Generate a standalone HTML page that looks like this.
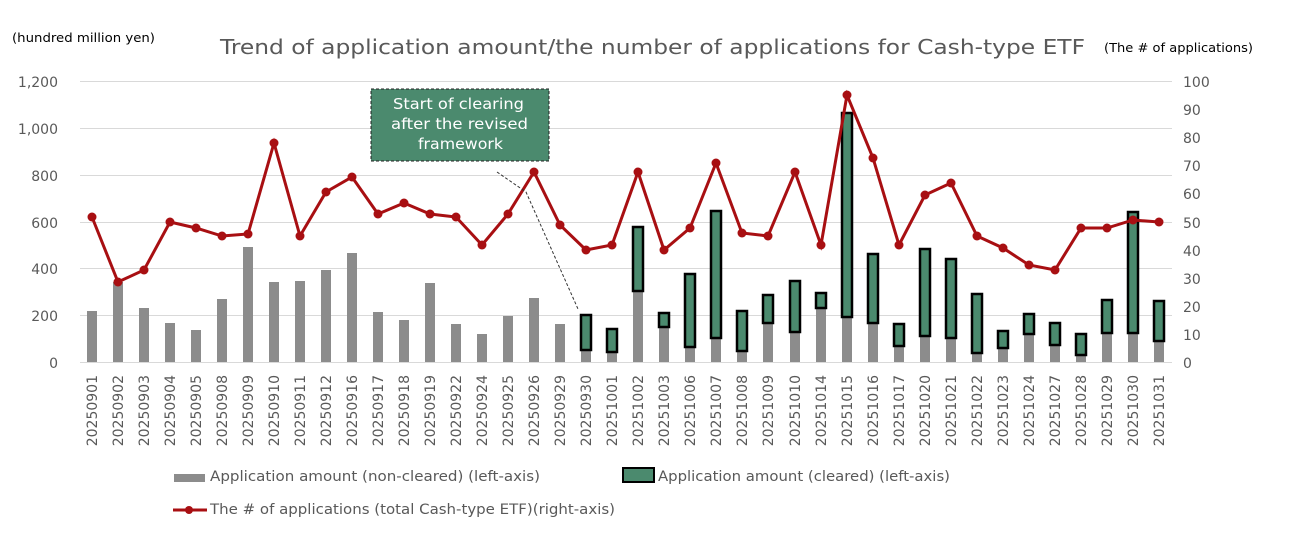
<!DOCTYPE html>
<html><head><meta charset="utf-8"><style>body{margin:0;background:#fff}svg{display:block;font-family:"DejaVu Sans","Liberation Sans",sans-serif}</style></head><body>
<svg width="1298" height="535" viewBox="0 0 1298 535" xmlns="http://www.w3.org/2000/svg">
<text x="12" y="42" font-size="12" fill="#000" textLength="143" lengthAdjust="spacingAndGlyphs">(hundred million yen)</text>
<text x="220" y="54" font-size="20" fill="#595959" textLength="865" lengthAdjust="spacingAndGlyphs">Trend of application amount/the number of applications for Cash-type ETF</text>
<text x="1104" y="52" font-size="12" fill="#000" textLength="149" lengthAdjust="spacingAndGlyphs">(The # of applications)</text>
<g stroke="#d9d9d9" stroke-width="1">
<line x1="80" x2="1172" y1="81.5" y2="81.5"/><line x1="80" x2="1172" y1="128.5" y2="128.5"/><line x1="80" x2="1172" y1="175.5" y2="175.5"/><line x1="80" x2="1172" y1="222.5" y2="222.5"/><line x1="80" x2="1172" y1="268.5" y2="268.5"/><line x1="80" x2="1172" y1="315.5" y2="315.5"/><line x1="80" x2="1172" y1="362.5" y2="362.5"/>
</g>
<g font-size="14" fill="#595959" text-anchor="end">
<text x="58" y="87">1,200</text><text x="58" y="134">1,000</text><text x="58" y="181">800</text><text x="58" y="228">600</text><text x="58" y="274">400</text><text x="58" y="321">200</text><text x="58" y="368">0</text>
</g>
<g font-size="14" fill="#595959">
<text x="1183" y="87">100</text><text x="1183" y="115">90</text><text x="1183" y="143">80</text><text x="1183" y="171">70</text><text x="1183" y="199">60</text><text x="1183" y="228">50</text><text x="1183" y="256">40</text><text x="1183" y="284">30</text><text x="1183" y="312">20</text><text x="1183" y="340">10</text><text x="1183" y="368">0</text>
</g>
<g fill="#8c8c8c">
<rect x="87" y="311" width="10" height="51"/><rect x="113" y="282" width="10" height="80"/><rect x="139" y="308" width="10" height="54"/><rect x="165" y="323" width="10" height="39"/><rect x="191" y="330" width="10" height="32"/><rect x="217" y="299" width="10" height="63"/><rect x="243" y="247" width="10" height="115"/><rect x="269" y="282" width="10" height="80"/><rect x="295" y="281" width="10" height="81"/><rect x="321" y="270" width="10" height="92"/><rect x="347" y="253" width="10" height="109"/><rect x="373" y="312" width="10" height="50"/><rect x="399" y="320" width="10" height="42"/><rect x="425" y="283" width="10" height="79"/><rect x="451" y="324" width="10" height="38"/><rect x="477" y="334" width="10" height="28"/><rect x="503" y="316" width="10" height="46"/><rect x="529" y="298" width="10" height="64"/><rect x="555" y="324" width="10" height="38"/>
<rect x="581" y="350" width="10" height="12"/><rect x="607" y="352" width="10" height="10"/><rect x="633" y="291" width="10" height="71"/><rect x="659" y="327" width="10" height="35"/><rect x="685" y="347" width="10" height="15"/><rect x="711" y="338" width="10" height="24"/><rect x="737" y="351" width="10" height="11"/><rect x="763" y="323" width="10" height="39"/><rect x="790" y="332" width="10" height="30"/><rect x="816" y="308" width="10" height="54"/><rect x="842" y="317" width="10" height="45"/><rect x="868" y="323" width="10" height="39"/><rect x="894" y="346" width="10" height="16"/><rect x="920" y="336" width="10" height="26"/><rect x="946" y="338" width="10" height="24"/><rect x="972" y="353" width="10" height="9"/><rect x="998" y="348" width="10" height="14"/><rect x="1024" y="334" width="10" height="28"/><rect x="1050" y="345" width="10" height="17"/><rect x="1076" y="355" width="10" height="7"/><rect x="1102" y="333" width="10" height="29"/><rect x="1128" y="333" width="10" height="29"/><rect x="1154" y="341" width="10" height="21"/>
</g>
<g fill="#4b8a6e" stroke="#000" stroke-width="2.5">
<rect x="581" y="315" width="10" height="35"/><rect x="607" y="329" width="10" height="23"/><rect x="633" y="227" width="10" height="64"/><rect x="659" y="313" width="10" height="14"/><rect x="685" y="274" width="10" height="73"/><rect x="711" y="211" width="10" height="127"/><rect x="737" y="311" width="10" height="40"/><rect x="763" y="295" width="10" height="28"/><rect x="790" y="281" width="10" height="51"/><rect x="816" y="293" width="10" height="15"/><rect x="842" y="113" width="10" height="204"/><rect x="868" y="254" width="10" height="69"/><rect x="894" y="324" width="10" height="22"/><rect x="920" y="249" width="10" height="87"/><rect x="946" y="259" width="10" height="79"/><rect x="972" y="294" width="10" height="59"/><rect x="998" y="331" width="10" height="17"/><rect x="1024" y="314" width="10" height="20"/><rect x="1050" y="323" width="10" height="22"/><rect x="1076" y="334" width="10" height="21"/><rect x="1102" y="300" width="10" height="33"/><rect x="1128" y="212" width="10" height="121"/><rect x="1154" y="301" width="10" height="40"/>
</g>
<polyline fill="none" stroke="#a80f12" stroke-width="3" points="92,217 118,282 144,270 170,222 196,228 222,236 248,234 274,143 300,236 326,192 352,177 378,214 404,203 430,214 456,217 482,245 508,214 534,172 560,225 586,250 612,245 638,172 664,250 690,228 716,163 742,233 768,236 795,172 821,245 847,95 873,158 899,245 925,195 951,183 977,236 1003,248 1029,265 1055,270 1081,228 1107,228 1133,220 1159,222"/>
<g fill="#a80f12">
<circle cx="92" cy="217" r="4.5"/><circle cx="118" cy="282" r="4.5"/><circle cx="144" cy="270" r="4.5"/><circle cx="170" cy="222" r="4.5"/><circle cx="196" cy="228" r="4.5"/><circle cx="222" cy="236" r="4.5"/><circle cx="248" cy="234" r="4.5"/><circle cx="274" cy="143" r="4.5"/><circle cx="300" cy="236" r="4.5"/><circle cx="326" cy="192" r="4.5"/><circle cx="352" cy="177" r="4.5"/><circle cx="378" cy="214" r="4.5"/><circle cx="404" cy="203" r="4.5"/><circle cx="430" cy="214" r="4.5"/><circle cx="456" cy="217" r="4.5"/><circle cx="482" cy="245" r="4.5"/><circle cx="508" cy="214" r="4.5"/><circle cx="534" cy="172" r="4.5"/><circle cx="560" cy="225" r="4.5"/><circle cx="586" cy="250" r="4.5"/><circle cx="612" cy="245" r="4.5"/><circle cx="638" cy="172" r="4.5"/><circle cx="664" cy="250" r="4.5"/><circle cx="690" cy="228" r="4.5"/><circle cx="716" cy="163" r="4.5"/><circle cx="742" cy="233" r="4.5"/><circle cx="768" cy="236" r="4.5"/><circle cx="795" cy="172" r="4.5"/><circle cx="821" cy="245" r="4.5"/><circle cx="847" cy="95" r="4.5"/><circle cx="873" cy="158" r="4.5"/><circle cx="899" cy="245" r="4.5"/><circle cx="925" cy="195" r="4.5"/><circle cx="951" cy="183" r="4.5"/><circle cx="977" cy="236" r="4.5"/><circle cx="1003" cy="248" r="4.5"/><circle cx="1029" cy="265" r="4.5"/><circle cx="1055" cy="270" r="4.5"/><circle cx="1081" cy="228" r="4.5"/><circle cx="1107" cy="228" r="4.5"/><circle cx="1133" cy="220" r="4.5"/><circle cx="1159" cy="222" r="4.5"/>
</g>
<polyline fill="none" stroke="#333" stroke-width="1" stroke-dasharray="3,2" points="497,172 526,192 578,309"/>
<rect x="371" y="89" width="178" height="72" fill="#4b8a6e" stroke="#222" stroke-width="1" stroke-dasharray="3,2"/>
<g font-size="15" fill="#fff"><text x="393" y="109" textLength="131" lengthAdjust="spacingAndGlyphs">Start of clearing</text><text x="391" y="129" textLength="137" lengthAdjust="spacingAndGlyphs">after the revised</text><text x="418" y="149" textLength="85" lengthAdjust="spacingAndGlyphs">framework</text></g>
<g font-size="14" fill="#595959" text-anchor="end">
<text transform="translate(97,375) rotate(-90)">20250901</text><text transform="translate(123,375) rotate(-90)">20250902</text><text transform="translate(149,375) rotate(-90)">20250903</text><text transform="translate(175,375) rotate(-90)">20250904</text><text transform="translate(201,375) rotate(-90)">20250905</text><text transform="translate(227,375) rotate(-90)">20250908</text><text transform="translate(253,375) rotate(-90)">20250909</text><text transform="translate(279,375) rotate(-90)">20250910</text><text transform="translate(305,375) rotate(-90)">20250911</text><text transform="translate(331,375) rotate(-90)">20250912</text><text transform="translate(357,375) rotate(-90)">20250916</text><text transform="translate(383,375) rotate(-90)">20250917</text><text transform="translate(409,375) rotate(-90)">20250918</text><text transform="translate(435,375) rotate(-90)">20250919</text><text transform="translate(461,375) rotate(-90)">20250922</text><text transform="translate(487,375) rotate(-90)">20250924</text><text transform="translate(513,375) rotate(-90)">20250925</text><text transform="translate(539,375) rotate(-90)">20250926</text><text transform="translate(565,375) rotate(-90)">20250929</text><text transform="translate(591,375) rotate(-90)">20250930</text><text transform="translate(617,375) rotate(-90)">20251001</text><text transform="translate(643,375) rotate(-90)">20251002</text><text transform="translate(669,375) rotate(-90)">20251003</text><text transform="translate(695,375) rotate(-90)">20251006</text><text transform="translate(721,375) rotate(-90)">20251007</text><text transform="translate(747,375) rotate(-90)">20251008</text><text transform="translate(773,375) rotate(-90)">20251009</text><text transform="translate(800,375) rotate(-90)">20251010</text><text transform="translate(826,375) rotate(-90)">20251014</text><text transform="translate(852,375) rotate(-90)">20251015</text><text transform="translate(878,375) rotate(-90)">20251016</text><text transform="translate(904,375) rotate(-90)">20251017</text><text transform="translate(930,375) rotate(-90)">20251020</text><text transform="translate(956,375) rotate(-90)">20251021</text><text transform="translate(982,375) rotate(-90)">20251022</text><text transform="translate(1008,375) rotate(-90)">20251023</text><text transform="translate(1034,375) rotate(-90)">20251024</text><text transform="translate(1060,375) rotate(-90)">20251027</text><text transform="translate(1086,375) rotate(-90)">20251028</text><text transform="translate(1112,375) rotate(-90)">20251029</text><text transform="translate(1138,375) rotate(-90)">20251030</text><text transform="translate(1164,375) rotate(-90)">20251031</text>
</g>
<rect x="174" y="474" width="31" height="8" fill="#8c8c8c"/>
<text x="210" y="481" font-size="14" fill="#595959" textLength="330" lengthAdjust="spacingAndGlyphs">Application amount (non-cleared) (left-axis)</text>
<rect x="623" y="468" width="31" height="14" fill="#4b8a6e" stroke="#000" stroke-width="2"/>
<text x="658" y="481" font-size="14" fill="#595959" textLength="292" lengthAdjust="spacingAndGlyphs">Application amount (cleared) (left-axis)</text>
<line x1="173" x2="207" y1="510" y2="510" stroke="#a80f12" stroke-width="3"/><circle cx="189" cy="510" r="4" fill="#a80f12"/>
<text x="210" y="514" font-size="14" fill="#595959" textLength="405" lengthAdjust="spacingAndGlyphs">The # of applications (total Cash-type ETF)(right-axis)</text>
</svg>
</body></html>
